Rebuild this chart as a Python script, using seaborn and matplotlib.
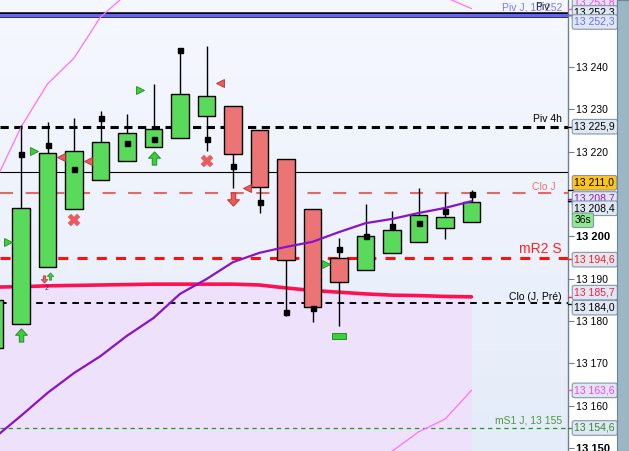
import matplotlib

matplotlib.use("Agg")

import matplotlib.pyplot as plt
import numpy as np
import pandas as pd
import seaborn as sns
from matplotlib.colors import LinearSegmentedColormap
from matplotlib.patches import Rectangle
from matplotlib.path import Path
from matplotlib.transforms import blended_transform_factory

# --- candles (bar 0 is cut off at the left edge) ---
opens = [13173.6, 13179.3, 13192.8, 13206.5, 13213.3, 13217.8, 13221.1, 13223.2, 13228.4, 13230.8,
         13225.1, 13218.3, 13206.5, 13194.9, 13192.0, 13196.1, 13198.7, 13202.0, 13203.4]
highs = [13185.0, 13226.3, 13227.0, 13228.0, 13229.6, 13228.9, 13236.0, 13244.0, 13245.0, 13230.8,
         13225.1, 13218.3, 13206.5, 13199.6, 13207.6, 13206.0, 13211.4, 13210.5, 13210.9]
lows = [13173.6, 13179.3, 13192.8, 13206.5, 13213.3, 13217.8, 13221.1, 13223.2, 13220.2, 13211.4,
        13205.5, 13181.2, 13179.8, 13178.8, 13192.0, 13196.1, 13198.7, 13199.4, 13203.4]
closes = [13185.0, 13206.7, 13219.7, 13220.2, 13222.3, 13224.4, 13225.4, 13233.6, 13233.1, 13219.4,
          13211.7, 13194.4, 13183.3, 13189.2, 13200.1, 13201.5, 13205.0, 13204.6, 13208.1]
pivot_marks = [np.nan, 13219.4, 13221.6, 13215.9, 13228.0, 13222.0, 13223.0, 13244.0, 13223.0, 13216.6,
               13208.1, 13182.1, 13183.1, 13197.0, 13200.1, 13202.4, 13203.1, 13206.0, 13210.0]

# --- indicators ---
fast_ma = [13152.4, 13157.6, 13163.0, 13167.7, 13171.7, 13176.5, 13180.7, 13186.4, 13189.9, 13193.9,
           13196.1, 13197.5, 13198.7, 13201.0, 13203.1, 13204.1, 13205.5, 13206.7, 13208.3]
slow_ma = [13188.0, 13188.1, 13188.3, 13188.4, 13188.5, 13188.6, 13188.7, 13188.7, 13188.7, 13188.7,
           13188.5, 13187.8, 13187.2, 13186.8, 13186.4, 13186.1, 13186.0, 13185.8, 13185.7]
upper_band = [13212.6, 13225.8, 13236.0, 13242.1, 13251.8, 13257.3, np.nan, np.nan, np.nan, np.nan,
              np.nan, np.nan, np.nan, np.nan, np.nan, np.nan, np.nan, 13256.5, 13253.8]
lower_band = [np.nan] * 15 + [13149.2, 13153.8, 13156.8, 13163.6]

# --- signals ---
buy_idx, buy_price = [1, 6], [13176.7, 13218.5]
sell_idx, sell_price = [9], [13208.8]
small_buy_idx, small_buy_price = [2], [13190.6]
small_sell_idx, small_sell_price = [2], [13189.9]
cross_idx, cross_price = [3, 8], [13203.9, 13217.8]
stop_idx, stop_price = [13], [13176.5]
tri_in_idx, tri_in_price = [1, 2, 6, 13], [13198.7, 13220.2, 13234.6, 13193.5]
tri_out_idx, tri_out_price = [2, 3, 8, 9], [13218.7, 13217.8, 13236.2, 13211.4]

# --- horizontal levels ---
level_names = ["Piv J, 13 252", "Piv 4h", "Clo J", "mR2 S", "Clo (J, Pré)", "mS1 J, 13 155"]
level_values = [13252.3, 13225.9, 13210.2, 13194.9, 13184.2, 13154.7]
last_line = 13215.2

# --- right axis ---
tick_values = [13240, 13230, 13220, 13200, 13190, 13180, 13170, 13160, 13150]
tick_labels = ["13 240", "13 230", "13 220", "13 200", "13 190", "13 180", "13 170", "13 160", "13 150"]
bold_ticks = ["13 200", "13 150"]
tag_texts = ["13 253,8", "13 252,3", "13 252,3", "13 225,9", "13 211,0", "13 208,7", "13 208,4",
             "36s", "13 194,6", "13 185,7", "13 184,0", "13 163,6", "13 154,6"]
tag_values = [13253.8, 13252.3, 13252.3, 13225.9, 13211.0, 13208.7, 13208.4,
              13208.4, 13194.6, 13185.7, 13184.0, 13163.6, 13154.6]
# vertical shift (px) applied so tags do not sit on top of each other
tag_shift = [5.6, 2, -7, 0, 7, 0.5, -7.5, -19.5, -0.5, 4.2, -3.6, 0, 0.5]
tag_colors = ["#ff3cff", "#000000", "#6a6aff", "#000000", "#000000", "#9a10d0", "#000000",
              "#000000", "#ff1a1a", "#ff1a4a", "#000000", "#ff3cff", "#2f8a2f"]
tag_faces = ["#dfe7f2"] * 4 + ["#ffc41a"] + ["#dfe7f2"] * 2 + ["#8fe88f"] + ["#dfe7f2"] * 5

W, H, DPI = 629, 451, 100
X0_PX, STEP_PX = -5.5, 26.5
AX_W = 568
Y_TOP, Y_BOT = 13255.83, 13149.28

sns.set_theme(style="white")
plt.rcParams["font.family"] = ["Liberation Sans", "DejaVu Sans"]

fig = plt.figure(figsize=(W / DPI, H / DPI), dpi=DPI)
fig.patch.set_facecolor("white")
ax = fig.add_axes([0, 0, AX_W / W, 1])
x_lo = (0 - X0_PX) / STEP_PX
x_hi = (AX_W - X0_PX) / STEP_PX
ax.set_xlim(x_lo, x_hi)
ax.set_ylim(Y_BOT, Y_TOP)

# background gradient
bg = LinearSegmentedColormap.from_list("bg", ["#f6f8ff", "#e4ecf9"])
ax.imshow(np.linspace(0, 1, 256).reshape(-1, 1), cmap=bg, aspect="auto",
          extent=[x_lo, x_hi, Y_BOT, Y_TOP], zorder=0)

idx = np.arange(len(opens))
df = pd.DataFrame({"bar": idx, "open": opens, "high": highs, "low": lows, "close": closes,
                   "fast": fast_ma, "slow": slow_ma})

# lavender zone under the slow average
ax.fill_between(df["bar"], df["slow"], Y_BOT, color="#eee1fb", zorder=1, linewidth=0)

# horizontal levels
lt = dict(zorder=2)
ax.axhline(level_values[0], color="black", lw=4.0, **lt)
ax.axhline(level_values[0], color="#6464ff", lw=2.3, **lt)
ax.axhline(level_values[1], color="black", lw=2.2, dashes=(2.7, 1.8), **lt)
ax.axhline(last_line, color="black", lw=0.8, **lt)
ax.axhline(level_values[2], color="#e06a6a", lw=1.5, dashes=(6.3, 6.0), **lt)
ax.axhline(level_values[3], color="#ff1010", lw=2.2, dashes=(3.3, 3.0), **lt)
ax.axhline(level_values[4], color="black", lw=1.4, dashes=(3.4, 2.8), **lt)
ax.axhline(level_values[5], color="#1f9a1f", lw=0.9, dashes=(3.5, 3.0), **lt)

label_kw = dict(ha="right", va="bottom", fontsize=7.5, zorder=6)
xr = (562 - X0_PX) / STEP_PX
ax.text(xr, level_values[0] + 0.6, level_names[0], color="#7a7aff", **label_kw)
ax.text(xr - 0.45, level_values[0] + 0.6, "Piv", color="#222222", **label_kw)
ax.text(xr, level_values[1] + 0.6, level_names[1], color="black", **label_kw)
ax.text(xr - 0.23, level_values[2] + 0.35, level_names[2], color="#e87474", **label_kw)
ax.text(xr, level_values[3] + 0.5, level_names[3], color="#ff2222",
        ha="right", va="bottom", fontsize=10, zorder=6)
ax.text(xr, level_values[4] + 0.3, level_names[4], color="black", **label_kw)
ax.text(xr, level_values[5] + 0.6, level_names[5], color="#4a9a3a", **label_kw)

# bands and moving averages
ax.plot(idx, upper_band, color="#ff70ff", lw=0.9, zorder=3)
ax.plot(idx, lower_band, color="#ff70ff", lw=0.9, zorder=3)
sns.lineplot(data=df, x="bar", y="slow", ax=ax, color="#ff1050", lw=2.6,
             estimator=None, sort=False, zorder=3)
sns.lineplot(data=df, x="bar", y="fast", ax=ax, color="#8a12c8", lw=1.6,
             estimator=None, sort=False, zorder=7)

# candles
up = df["close"] >= df["open"]
ax.vlines(df["bar"], df["low"], df["high"], color="black", lw=1, zorder=4)
ax.bar(df["bar"], df["close"] - df["open"], bottom=df["open"], width=0.66,
       color=np.where(up, "#5ada5a", "#ec7474"), edgecolor="black", linewidth=1, zorder=5)
ax.plot(idx, pivot_marks, "s", color="black", ms=3.6, zorder=8)

# signal markers
arrow_up = Path([(-0.17, -0.5), (0.17, -0.5), (0.17, 0.02), (0.45, 0.02), (0, 0.5),
                 (-0.45, 0.02), (-0.17, 0.02), (-0.17, -0.5)], closed=True)
arrow_dn = Path([(x, -y) for x, y in arrow_up.vertices], closed=True)
stop_box = Path([(-0.5, -0.2), (0.5, -0.2), (0.5, 0.2), (-0.5, 0.2), (-0.5, -0.2)], closed=True)
mk = dict(ls="none", zorder=9)
ax.plot(buy_idx, buy_price, marker=arrow_up, ms=9.5, mfc="#3ccf3c", mec="#239023", mew=0.7, **mk)
ax.plot(sell_idx, sell_price, marker=arrow_dn, ms=9.5, mfc="#ee5a5a", mec="#c03030", mew=0.7, **mk)
ax.plot(np.array(small_buy_idx) + 0.09, small_buy_price, marker=arrow_up, ms=5.2,
        mfc="#3ccf3c", mec="#239023", mew=0.5, **mk)
ax.plot(np.array(small_sell_idx) - 0.13, small_sell_price, marker=arrow_dn, ms=5.2,
        mfc="#ee5a5a", mec="#c03030", mew=0.5, **mk)
ax.plot(cross_idx, cross_price, marker="X", ms=8, mfc="#ea5c5c", mec="#ea5c5c", mew=0.3, **mk)
ax.plot(stop_idx, stop_price, marker=stop_box, ms=9.5, mfc="#3ccf3c", mec="#239023", mew=0.7, **mk)
ax.plot(np.array(tri_in_idx) - 0.5, tri_in_price, marker=">", ms=5.5,
        mfc="#3ccf3c", mec="#1f8a1f", mew=0.6, **mk)
ax.plot(np.array(tri_out_idx) + 0.52, tri_out_price, marker="<", ms=5.5,
        mfc="#ee5a5a", mec="#b03030", mew=0.6, **mk)
ax.text(1.98, 13187.6, "2", fontsize=5, color="#303070", ha="center", va="center", zorder=9)

# right price axis
for side in ["top", "left", "bottom"]:
    ax.spines[side].set_visible(False)
ax.spines["right"].set_color("#6f8090")
ax.spines["right"].set_linewidth(1)
ax.set_xticks([])
ax.yaxis.tick_right()
ax.set_yticks(tick_values)
ax.set_yticklabels(tick_labels)
ax.tick_params(axis="y", length=4, width=0.8, color="#6f8090", pad=2, labelsize=7.5,
               labelcolor="black")
for lab in ax.get_yticklabels():
    if lab.get_text() in bold_ticks:
        lab.set_fontweight("bold")
        lab.set_fontsize(8)
ax.set_xlabel("")
ax.set_ylabel("")

tr = blended_transform_factory(ax.transAxes, ax.transData)
for text, val, dy, col, face in zip(tag_texts, tag_values, tag_shift, tag_colors, tag_faces):
    ax.plot([1.0, 1.0 + 5 / AX_W], [val, val], color=col, lw=1, transform=tr,
            clip_on=False, zorder=10)
    ax.annotate(text, xy=(1.0, val), xycoords=tr, xytext=(6.5, dy), textcoords="offset pixels",
                ha="left", va="center", fontsize=7.5, color=col, annotation_clip=False,
                zorder=11,
                bbox=dict(boxstyle="round,pad=0.22,rounding_size=0.2", fc=face,
                          ec="#8796a6", lw=0.8))

# blue-grey side strip
fig.patches.append(Rectangle((617 / W, 0), 12 / W, 1, transform=fig.transFigure,
                             facecolor="#9bb7c6", edgecolor="#6c8494", lw=0.8, zorder=0))

fig.savefig("out.png", dpi=DPI)
